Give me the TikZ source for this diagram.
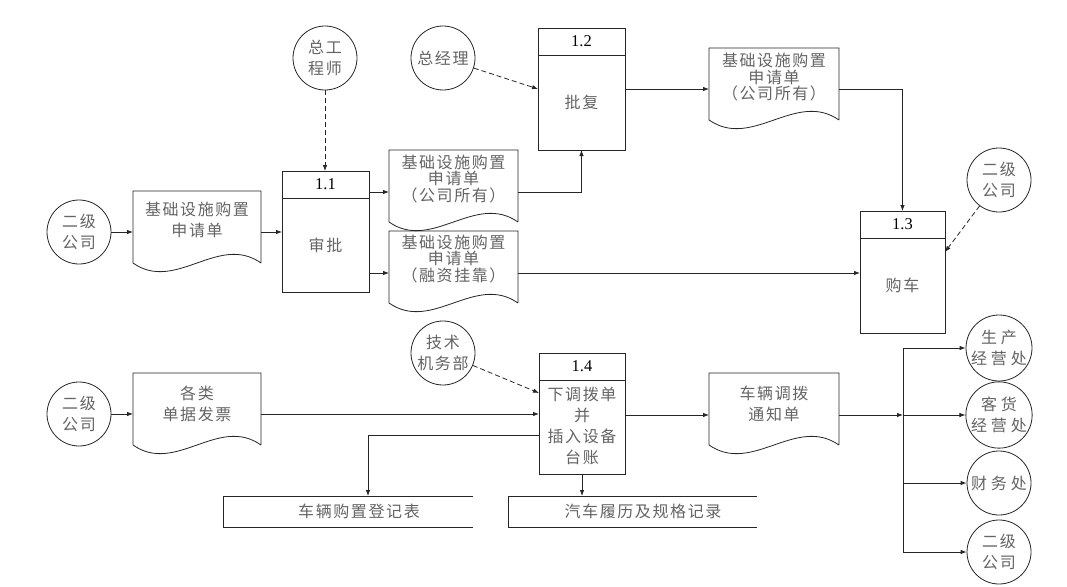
\documentclass[tikz,border=0pt]{standalone}
\usepackage{fontspec}
\setmainfont{Liberation Serif}
\newfontfamily\cjk[LetterSpace=10]{Noto Sans CJK SC}
\usetikzlibrary{arrows.meta,calc}
\definecolor{txt}{RGB}{100,100,100}
\newcommand\ftA{\cjk\fontsize{16}{21}\selectfont}
\newcommand\ftB{\cjk\fontsize{16}{16.5}\selectfont}
\newcommand\ftW{\cjk\addfontfeature{LetterSpace=24}\fontsize{16}{21}\selectfont}
\newcommand\ftN{\fontsize{16.5}{18}\selectfont}
\newcommand\docpath[1]{\draw[ln] (#1.south east) -- (#1.north east) -- (#1.north west) -- (#1.south west)
  .. controls ($(#1.south west)!0.333!(#1.south east)+(0,30)$) and ($(#1.south west)!0.667!(#1.south east)+(0,-30)$) .. (#1.south east);}
\newcommand\storepath[1]{\draw[ln] (#1.north east) -- (#1.north west) -- (#1.south west) -- (#1.south east);}
\newcommand\headline[1]{\draw[ln] ($(#1.north west)+(0,27)$) -- ($(#1.north east)+(0,27)$);}
\begin{document}
\begin{tikzpicture}[x=1pt,y=-1pt,
  ln/.style={line width=0.8pt,draw=black!85},
  arr/.style={ln,-{Latex[length=6pt,width=4.5pt]}},
  darr/.style={arr,dash pattern=on 5pt off 3pt},
  ent/.style={circle,ln,draw,minimum size=64pt,inner sep=0pt,font=\ftA,text=txt,align=center},
  entw/.style={ent,font=\ftW},
  shp/.style={inner sep=0pt,outer sep=0pt},
  proc/.style={shp,ln,draw},
  lbl/.style={font=\ftA,text=txt,align=center,inner sep=0pt},
  lbl3/.style={font=\ftB,text=txt,align=center,inner sep=0pt},
  num/.style={font=\ftN,inner sep=0pt}
]
\useasboundingbox (0,0) rectangle (1067,586);
\fill[white] (0,0) rectangle (1067,586);

% level coordinates
\coordinate (y192) at (0,192);
\coordinate (y273) at (0,273);
\coordinate (y252) at (0,252);
\coordinate (y393) at (0,393);
\coordinate (y415) at (0,415);
\coordinate (k2) at (368,435);
\coordinate (bus) at (903,415);

% entities
\node[ent] (c1) at (79,232) {二级\\公司};
\node[ent] (c2) at (325,58) {总工\\程师};
\node[ent] (c3) at (443,58) {总经理};
\node[ent] (c4) at (999,180) {二级\\公司};
\node[ent] (c5) at (79,414) {二级\\公司};
\node[ent] (c6) at (443,353) {技术\\机务部};
\node[entw] (c7) at (999,348) {生产\\经营处};
\node[entw] (c8) at (999,415) {客货\\经营处};
\node[entw] (c9) at (999,483) {财务处};
\node[ent] (c10) at (999,552) {二级\\公司};

% documents
\node[shp,minimum width=128pt,minimum height=72pt] (d1) at (197,227) {};
\docpath{d1}
\node[lbl] (d1t) at (197,220) {基础设施购置\\申请单};
\node[shp,minimum width=129pt,minimum height=72pt] (d2) at (453.5,186) {};
\docpath{d2}
\node[lbl3] (d2t) at (453.5,179) {基础设施购置\\申请单\\（公司所有）};
\node[shp,minimum width=129pt,minimum height=72pt] (d3) at (453.5,267) {};
\docpath{d3}
\node[lbl3] (d3t) at (453.5,259) {基础设施购置\\申请单\\（融资挂靠）};
\node[shp,minimum width=130pt,minimum height=72pt] (d4) at (774,84) {};
\docpath{d4}
\node[lbl3] (d4t) at (774,77.5) {基础设施购置\\申请单\\（公司所有）};
\node[shp,minimum width=128pt,minimum height=72pt] (d5) at (197,409) {};
\docpath{d5}
\node[lbl] (d5t) at (197,403.5) {各类\\单据发票};
\node[shp,minimum width=130pt,minimum height=72pt] (d6) at (774,409) {};
\docpath{d6}
\node[lbl] (d6t) at (774,403.5) {车辆调拨\\通知单};

% processes
\node[proc,minimum width=87pt,minimum height=121pt] (p11) at (325.5,231.5) {};
\headline{p11}
\node[num] (p11n) at ($(p11.north)+(0,13.5)$) {1.1};
\node[lbl] (p11t) at (325.5,245) {审批};
\node[proc,minimum width=87pt,minimum height=122pt] (p12) at (581.5,89) {};
\headline{p12}
\node[num] (p12n) at ($(p12.north)+(0,13.5)$) {1.2};
\node[lbl] (p12t) at (581.5,102) {批复};
\node[proc,minimum width=85pt,minimum height=122pt] (p13) at (902.5,272) {};
\headline{p13}
\node[num] (p13n) at ($(p13.north)+(0,13.5)$) {1.3};
\node[lbl] (p13t) at (902.5,285) {购车};
\node[proc,minimum width=86pt,minimum height=121pt] (p14) at (582,413.5) {};
\headline{p14}
\node[num] (p14n) at ($(p14.north)+(0,13.5)$) {1.4};
\node[lbl] (p14t) at (582,426) {下调拨单\\并\\插入设备\\台账};

% stores
\node[shp,minimum width=250pt,minimum height=31pt] (s1) at (348,511.5) {};
\storepath{s1}
\node[lbl] (s1t) at (359,511.5) {车辆购置登记表};
\node[shp,minimum width=249pt,minimum height=31pt] (s2) at (632.5,511.5) {};
\storepath{s2}
\node[lbl] (s2t) at (643,511.5) {汽车履历及规格记录};

% flows
\draw[arr] (c1.east) -- (c1.east -| d1.west);
\draw[arr] (c1.east -| d1.east) -- (c1.east -| p11.west);
\draw[darr] (c2.south) -- (c2.south |- p11.north);
\draw[arr] (p11.east |- y192) -- (d2.west |- y192);
\draw[arr] (p11.east |- y273) -- (d3.west |- y273);
\draw[arr] (d2.east |- y192) -- (p12.south |- y192) -- (p12.south);
\draw[darr] (c3) -- (p12.west);
\draw[arr] (p12.east) -- (p12.east -| d4.west);
\draw[arr] (p12.east -| d4.east) -- (p12.east -| p13.north) -- (p13.north);
\draw[arr] (d3.east |- y273) -- (p13.west |- y273);
\draw[darr] (c4) -- (p13.east |- y252);
\draw[arr] (c5.east) -- (c5.east -| d5.west);
\draw[arr] (c5.east -| d5.east) -- (c5.east -| p14.west);
\draw[darr] (c6) -- (p14.west |- y393);
\draw[arr] (p14.west |- k2) -- (k2) -- (k2 |- s1.north);
\draw[arr] (p14.south) -- (p14.south |- s2.north);
\draw[arr] (p14.east |- y415) -- (d6.west |- y415);
\draw[arr] (d6.east |- bus) -- (bus);
\draw[ln] (bus |- c7) -- (bus |- c10);
\draw[arr] (bus |- c7) -- (c7.west);
\draw[arr] (bus |- c8) -- (c8.west);
\draw[arr] (bus |- c9) -- (c9.west);
\draw[arr] (bus |- c10) -- (c10.west);
\end{tikzpicture}
\end{document}
